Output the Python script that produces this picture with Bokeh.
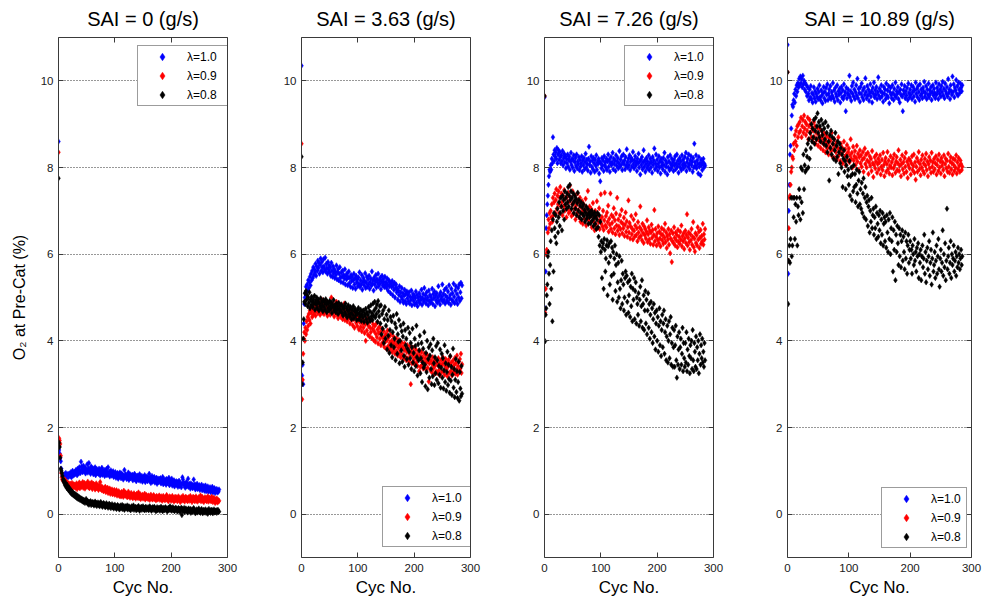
from bokeh.plotting import figure
from bokeh.models import Range1d, LinearAxis, FixedTicker, Legend, LegendItem
from bokeh.layouts import row
from bokeh.embed import file_html
from bokeh.resources import INLINE

titles = ["SAI = 0 (g/s)", "SAI = 3.63 (g/s)", "SAI = 7.26 (g/s)", "SAI = 10.89 (g/s)"]
series_labels = ["λ=1.0", "λ=0.9", "λ=0.8"]
colors = ["#0000ff", "#ff0000", "#000000"]
x_ticks = [0, 100, 200, 300]
y_ticks = [0, 2, 4, 6, 8, 10]
x_label = "Cyc No."
y_label = "O₂ at Pre-Cat (%)"

# ---- SAI = 0 ----
p1_b = [8.60,
1.48,1.40,1.30,1.22,1.05,0.95,0.90,0.86,0.88,
0.85,0.92,0.88,0.95,0.83,0.90,0.87,0.93,0.86,0.91,
0.94,0.88,0.97,0.85,0.92,1.00,0.89,0.95,0.91,0.98,
0.93,1.02,0.96,0.90,1.05,0.99,0.94,1.08,1.01,0.95,
1.21,1.10,1.03,0.97,1.12,1.05,0.99,1.08,0.94,1.03,
1.00,1.15,0.96,1.06,1.18,0.98,1.04,0.93,1.10,1.01,
0.97,1.06,0.92,1.02,0.99,1.08,0.90,0.98,1.04,0.95,
1.00,0.93,1.05,0.97,0.89,1.01,0.94,1.07,0.91,0.99,
0.95,1.02,0.88,0.97,0.93,1.04,0.90,0.96,1.08,0.92,
0.98,0.87,0.94,1.01,0.89,0.95,0.91,0.99,0.86,0.93,
0.90,0.97,0.84,0.92,0.88,0.95,0.82,0.91,0.87,0.96,
0.89,0.83,0.94,0.86,0.91,0.80,0.88,1.02,0.85,0.92,
0.87,0.81,0.90,0.84,0.96,0.79,0.86,0.92,0.83,0.89,
0.85,0.91,0.78,0.87,0.82,0.93,0.80,0.86,0.76,0.88,
0.83,0.89,0.79,0.85,0.92,0.77,0.84,0.81,0.88,0.75,
0.82,0.86,0.78,0.90,0.74,0.83,0.79,0.87,0.76,0.84,
0.80,0.93,0.77,0.85,0.72,0.81,0.88,0.75,0.83,0.78,
0.86,0.73,0.80,0.76,0.84,0.70,0.79,0.82,0.74,0.81,
0.77,0.83,0.71,0.79,0.75,0.86,0.69,0.78,0.73,0.80,
0.76,0.68,0.81,0.72,0.79,0.74,0.84,0.67,0.77,0.71,
0.75,0.82,0.66,0.74,0.70,0.78,0.64,0.73,0.69,0.76,
0.68,0.74,0.63,0.71,0.77,0.65,0.72,0.67,0.62,0.70,
0.85,0.80,0.73,0.66,0.70,0.61,0.68,0.74,0.64,0.69,
0.82,0.63,0.70,0.66,0.59,0.71,0.65,0.68,0.60,0.67,
0.80,0.62,0.69,0.57,0.66,0.63,0.70,0.58,0.64,0.61,
0.67,0.56,0.63,0.60,0.68,0.55,0.62,0.59,0.65,0.54,
0.61,0.66,0.53,0.60,0.57,0.64,0.52,0.59,0.56,0.62,
0.51,0.58,0.55,0.63,0.50,0.57,0.54,0.60,0.49,0.56,
0.53,0.58,0.50,0.55,0.52,0.57]

p1_r = [8.35,
1.75,1.70,1.62,1.35,0.95,0.85,0.80,0.78,0.82,
0.76,0.72,0.79,0.70,0.74,0.68,0.73,0.66,0.71,0.69,
0.64,0.70,0.62,0.67,0.72,0.60,0.66,0.69,0.63,0.68,
0.61,0.67,0.71,0.58,0.65,0.69,0.62,0.73,0.60,0.66,
0.70,0.63,0.68,0.74,0.61,0.67,0.72,0.59,0.66,0.70,
0.64,0.69,0.75,0.62,0.68,0.60,0.71,0.65,0.67,0.73,
0.58,0.66,0.70,0.63,0.68,0.57,0.64,0.71,0.60,0.66,
0.62,0.56,0.67,0.61,0.74,0.58,0.64,0.55,0.62,0.59,
0.53,0.60,0.56,0.63,0.51,0.58,0.54,0.61,0.49,0.57,
0.52,0.59,0.47,0.55,0.50,0.57,0.46,0.53,0.49,0.56,
0.45,0.52,0.48,0.55,0.43,0.50,0.46,0.53,0.42,0.49,
0.47,0.41,0.51,0.44,0.48,0.40,0.54,0.45,0.43,0.50,
0.42,0.47,0.39,0.45,0.52,0.41,0.46,0.38,0.44,0.49,
0.40,0.45,0.37,0.43,0.48,0.39,0.44,0.36,0.42,0.47,
0.38,0.43,0.50,0.37,0.42,0.46,0.35,0.41,0.39,0.45,
0.36,0.42,0.38,0.47,0.34,0.40,0.44,0.37,0.41,0.35,
0.43,0.38,0.33,0.40,0.45,0.36,0.41,0.34,0.39,0.44,
0.35,0.40,0.37,0.32,0.42,0.38,0.34,0.41,0.36,0.43,
0.33,0.39,0.35,0.41,0.31,0.37,0.42,0.34,0.38,0.32,
0.40,0.35,0.44,0.33,0.38,0.30,0.36,0.41,0.34,0.39,
0.31,0.37,0.42,0.33,0.38,0.29,0.35,0.40,0.32,0.36,
0.39,0.30,0.35,0.41,0.33,0.37,0.28,0.34,0.39,0.31,
0.36,0.42,0.32,0.37,0.29,0.35,0.40,0.33,0.38,0.30,
0.34,0.39,0.31,0.36,0.42,0.32,0.37,0.28,0.35,0.40,
0.33,0.38,0.30,0.35,0.41,0.31,0.36,0.29,0.34,0.39,
0.32,0.37,0.43,0.30,0.35,0.40,0.31,0.36,0.28,0.34,
0.39,0.32,0.37,0.30,0.35,0.41,0.29,0.34,0.38,0.31,
0.36,0.30,0.40,0.33,0.28,0.35,0.38,0.31,0.26,0.34,
0.30,0.36,0.27,0.33,0.29,0.31]

p1_k = [7.75,
1.65,1.55,1.30,1.05,1.00,0.95,0.88,0.80,0.75,
0.78,0.70,0.66,0.72,0.63,0.60,0.67,0.58,0.55,0.61,
0.52,0.57,0.49,0.54,0.46,0.51,0.44,0.48,0.42,0.47,
0.40,0.45,0.38,0.43,0.36,0.41,0.35,0.39,0.33,0.37,
0.32,0.36,0.30,0.34,0.28,0.33,0.31,0.26,0.30,0.35,
0.27,0.31,0.24,0.29,0.22,0.28,0.25,0.30,0.21,0.26,
0.28,0.23,0.27,0.20,0.25,0.29,0.22,0.26,0.19,0.24,
0.27,0.21,0.25,0.18,0.23,0.28,0.20,0.24,0.17,0.22,
0.26,0.19,0.23,0.16,0.21,0.25,0.18,0.22,0.15,0.20,
0.24,0.17,0.21,0.14,0.19,0.23,0.16,0.20,0.13,0.18,
0.22,0.15,0.19,0.12,0.17,0.21,0.14,0.18,0.11,0.16,
0.20,0.13,0.17,0.21,0.12,0.16,0.19,0.10,0.15,0.18,
0.13,0.17,0.20,0.11,0.15,0.18,0.12,0.16,0.09,0.14,
0.18,0.12,0.16,0.20,0.10,0.15,0.13,0.17,0.09,0.14,
0.16,0.11,0.19,0.13,0.08,0.15,0.12,0.17,0.10,0.14,
0.18,0.11,0.15,0.09,0.13,0.17,0.10,0.14,0.12,0.16,
0.09,0.13,0.18,0.11,0.15,0.08,0.12,0.16,0.10,0.14,
0.17,0.10,0.13,0.07,0.12,0.16,0.09,0.14,0.11,0.15,
0.08,0.12,0.17,0.10,0.14,0.07,0.11,0.15,0.09,0.13,
0.16,0.10,0.13,0.06,0.11,0.15,0.09,0.12,0.18,0.10,
0.14,0.08,0.12,0.16,0.09,0.13,0.07,0.11,0.15,0.10,
0.13,0.06,0.10,0.14,0.08,0.12,0.05,0.11,0.15,-0.02,
0.12,0.07,0.10,0.14,0.05,0.09,0.13,0.08,0.11,0.04,
0.10,0.13,0.06,0.09,0.12,0.03,0.08,0.11,0.05,0.10,
0.14,0.07,0.09,0.02,0.06,0.11,0.08,0.04,0.10,0.13,
0.05,0.08,0.03,0.09,0.12,0.06,0.02,0.07,0.10,0.04,
0.08,0.11,0.03,0.06,0.09,0.01,0.07,0.12,0.05,0.08,
0.03,0.10,0.06,0.09,0.02,0.07,0.11,0.04,0.08,0.05,
0.09,0.03,0.07,0.10,0.05,0.06]

# ---- SAI = 3.63 ----
p2_b = [10.35,
3.20,3.45,3.00,4.40,4.85,5.00,5.10,5.25,5.05,
5.30,5.15,5.40,5.22,5.35,5.48,5.28,5.55,5.40,5.62,
5.45,5.70,5.52,5.65,5.58,5.78,5.50,5.72,5.62,5.85,
5.68,5.80,5.55,5.75,5.90,5.62,5.82,5.70,5.58,5.88,
5.72,5.65,5.92,5.60,5.78,5.68,5.55,5.82,5.64,5.74,
5.58,5.70,5.50,5.80,5.62,5.48,5.72,5.56,5.66,5.45,
5.60,5.52,5.74,5.42,5.58,5.66,5.40,5.55,5.70,5.46,
5.36,5.58,5.48,5.62,5.34,5.52,5.44,5.65,5.30,5.50,
5.42,5.56,5.28,5.47,5.60,5.33,5.45,5.25,5.52,5.38,
5.48,5.22,5.40,5.55,5.30,5.44,5.20,5.50,5.35,5.42,
5.26,5.46,5.32,5.58,5.24,5.40,5.30,5.52,5.18,5.36,
5.45,5.28,5.38,5.56,5.22,5.34,5.48,5.25,5.42,5.30,
5.50,5.20,5.36,5.44,5.27,5.60,5.32,5.40,5.16,5.46,
5.30,5.38,5.52,5.23,5.42,5.34,5.55,5.26,5.40,5.32,
5.46,5.19,5.37,5.50,5.28,5.42,5.35,5.24,5.48,5.30,
5.36,5.22,5.44,5.30,5.15,5.40,5.26,5.35,5.10,5.32,
5.24,5.38,5.05,5.28,5.18,5.34,5.00,5.22,5.30,5.12,
5.20,4.95,5.16,5.06,5.26,4.90,5.12,5.02,5.22,4.96,
5.10,4.88,5.04,5.18,4.92,5.08,4.85,5.14,4.98,5.06,
4.90,5.12,4.86,5.02,4.94,5.16,4.82,5.00,5.08,4.92,
5.04,4.84,4.98,5.14,4.88,5.06,4.80,5.00,4.93,5.10,
4.87,5.02,4.95,5.18,4.83,4.98,5.08,4.90,5.22,4.96,
5.05,4.86,5.12,4.94,5.00,4.82,5.16,4.92,5.06,4.88,
5.02,4.95,5.20,4.85,5.08,4.98,5.14,4.80,5.04,4.93,
5.10,4.88,5.00,5.26,4.92,5.06,4.84,5.12,4.96,5.02,
5.30,4.90,5.08,4.95,5.18,4.86,5.04,5.22,4.92,5.00,
5.14,4.88,5.28,4.97,5.06,4.83,5.20,4.95,5.10,4.90,
5.32,5.02,4.87,5.16,5.26,4.94,5.08,4.85,5.22,5.00,
5.30,4.92,5.12,5.34,4.98,5.28]

p2_r = [8.55,
2.65,3.10,3.70,4.05,4.20,4.00,4.30,4.15,4.45,
4.25,4.55,4.35,4.62,4.48,4.70,4.40,4.65,4.78,4.55,
4.72,4.60,4.85,4.66,4.75,4.58,4.82,4.70,4.90,4.64,
4.78,4.68,4.88,4.60,4.80,4.72,4.95,4.65,4.84,4.74,
4.62,4.86,4.70,4.92,4.66,4.80,4.58,4.88,4.74,4.68,
4.83,4.60,4.76,5.00,4.70,4.85,4.64,4.78,4.56,4.82,
4.72,4.66,4.90,4.60,4.78,4.52,4.74,4.84,4.62,4.70,
4.55,4.80,4.65,4.50,4.74,4.60,4.86,4.48,4.68,4.58,
4.70,4.45,4.62,4.76,4.52,4.66,4.40,4.60,4.72,4.48,
4.58,4.36,4.65,4.50,4.30,4.56,4.62,4.42,4.54,4.34,
4.48,4.60,4.26,4.44,4.52,4.32,4.58,4.22,4.40,4.50,
4.30,4.46,4.18,4.38,4.00,4.42,4.24,4.52,4.14,4.34,
4.44,4.10,4.30,4.20,4.48,4.06,4.28,4.38,4.02,4.22,
4.34,3.98,4.16,4.40,4.08,4.26,3.94,4.18,4.32,4.04,
4.20,3.90,4.12,4.28,3.96,4.06,4.22,3.86,4.10,3.98,
4.16,3.82,4.02,4.24,3.88,4.08,3.78,3.96,4.14,3.84,
4.00,3.74,3.92,4.10,3.80,3.98,3.70,3.88,4.06,3.76,
3.94,3.66,3.84,4.02,3.72,3.90,3.62,3.82,3.96,3.68,
3.86,3.58,3.78,3.94,3.64,3.82,3.55,3.74,3.90,3.60,
3.80,3.52,3.70,3.88,3.00,3.76,3.48,3.66,3.84,3.56,
3.72,3.46,3.62,3.80,3.50,3.68,3.42,3.58,3.76,3.30,
3.66,3.40,3.56,3.74,3.44,3.62,3.36,3.52,3.70,3.46,
3.60,3.34,3.50,3.68,3.38,3.56,3.06,3.48,3.64,3.32,
3.54,3.28,3.46,3.62,3.36,3.52,3.24,3.42,3.58,3.30,
3.50,3.26,3.44,3.60,3.32,3.48,3.20,3.40,3.56,3.28,
3.46,3.62,3.30,3.52,3.22,3.42,3.58,3.34,3.48,3.18,
3.40,3.56,3.26,3.46,3.64,3.30,3.50,3.20,3.38,3.54,
3.28,3.44,3.60,3.24,3.48,3.34,3.66,3.22,3.42,3.52,
3.30,3.58,3.36,3.70,3.26,3.46]

p2_k = [8.25,
3.00,3.50,4.05,4.50,4.90,5.10,4.85,5.15,4.95,
5.05,4.80,5.00,4.88,5.12,4.75,4.95,4.82,5.02,4.90,
4.78,4.96,4.86,5.04,4.72,4.92,4.84,5.00,4.76,4.88,
4.95,4.70,4.86,4.80,4.98,4.74,4.90,4.82,4.68,4.94,
4.78,4.88,4.72,4.96,4.84,4.66,4.90,4.76,4.86,4.70,
4.92,4.80,4.74,4.88,4.64,4.84,4.78,4.94,4.70,4.82,
4.76,4.66,4.86,4.72,4.80,4.62,4.88,4.74,4.68,4.82,
4.70,4.84,4.64,4.78,4.58,4.74,4.80,4.66,4.86,4.60,
4.76,4.54,4.70,4.82,4.62,4.72,4.56,4.78,4.64,4.50,
4.72,4.60,4.80,4.52,4.68,4.74,4.58,4.66,4.48,4.70,
4.62,4.76,4.50,4.64,4.56,4.72,4.46,4.60,4.68,4.54,
4.70,4.44,4.62,4.58,4.74,4.50,4.66,4.42,4.60,4.78,
4.52,4.68,4.46,4.82,4.56,4.64,4.48,4.86,4.58,4.70,
4.90,4.54,4.76,4.62,4.84,4.44,4.92,4.68,4.56,4.80,
4.40,4.82,4.15,4.62,4.28,4.70,3.95,4.50,4.78,4.05,
4.35,4.60,3.80,4.48,4.12,4.70,3.72,4.25,4.55,3.90,
4.45,3.62,4.20,4.58,3.85,4.05,4.40,3.55,4.30,4.62,
3.70,4.15,3.98,4.48,3.48,4.00,4.35,3.78,4.22,3.52,
4.10,4.40,3.65,3.40,4.25,3.90,4.05,3.58,3.82,4.30,
3.45,3.75,4.18,3.60,3.95,3.35,3.85,4.28,3.50,3.72,
3.30,4.05,3.88,3.42,4.35,3.62,3.20,3.92,3.55,3.78,
4.12,3.25,3.60,3.95,3.05,3.50,3.82,3.38,4.20,3.45,
2.95,3.72,3.28,4.00,2.88,3.58,3.85,3.15,3.66,3.92,
3.35,3.00,3.78,3.18,4.05,3.48,2.98,3.62,3.25,3.88,
3.10,3.55,3.95,3.02,3.42,3.22,3.80,2.92,3.38,3.70,
3.15,3.60,2.90,3.32,3.90,3.05,3.48,2.85,3.28,3.75,
2.98,3.45,3.12,2.80,3.65,3.08,3.40,2.75,3.22,3.82,
2.92,3.35,2.70,3.10,3.58,2.82,3.30,2.68,3.05,3.52,
2.62,3.28,2.90,2.72,3.42,2.78]

# ---- SAI = 7.26 ----
p3_b = [9.62,
4.75,5.60,6.60,6.90,7.15,7.35,7.60,7.80,7.95,
7.90,8.05,7.95,8.20,8.10,8.70,8.30,8.15,8.40,8.25,
8.35,8.20,8.45,8.10,8.30,8.40,8.18,8.36,8.25,8.10,
8.28,8.15,8.38,8.05,8.22,8.32,8.12,8.26,7.98,8.20,
8.10,8.30,8.02,8.18,8.25,7.95,8.14,8.34,8.06,8.20,
8.00,8.16,8.28,7.92,8.12,8.22,8.04,8.30,7.98,8.14,
8.08,8.24,7.94,8.18,8.02,8.10,8.26,7.90,8.16,8.05,
8.22,7.96,8.12,8.32,8.00,8.18,8.08,7.93,8.20,8.48,
8.06,8.14,7.88,8.26,8.02,8.16,7.96,8.22,8.10,7.90,
8.18,8.04,8.28,7.95,8.12,8.08,8.20,7.86,8.14,7.68,
8.10,7.98,8.22,8.04,8.16,7.92,8.26,8.06,8.12,8.00,
8.20,7.94,8.14,8.30,8.02,8.18,7.90,8.10,8.24,8.06,
8.12,8.34,7.96,8.20,8.08,8.16,7.92,8.28,8.04,8.14,
8.22,7.98,8.10,8.38,8.02,8.18,8.06,8.26,7.94,8.12,
8.30,8.08,8.16,7.96,8.24,8.04,8.42,8.12,8.00,8.20,
8.06,8.28,7.94,8.14,8.22,8.02,8.18,8.36,8.08,7.98,
8.16,8.26,8.04,8.12,7.92,8.20,8.10,8.32,8.00,8.14,
7.84,8.18,8.06,8.24,7.96,8.12,8.40,8.02,8.16,7.90,
8.08,8.22,7.98,8.14,8.04,8.28,7.94,8.10,8.20,8.00,
8.12,7.88,8.24,8.06,8.16,8.44,7.96,8.10,8.30,8.02,
8.18,7.92,8.08,8.26,8.00,8.14,7.86,8.20,8.04,8.12,
7.96,8.22,8.06,8.34,7.90,8.16,8.02,8.10,7.84,8.24,
8.00,8.14,7.94,8.28,8.08,7.98,8.20,8.04,8.12,7.92,
8.18,8.06,8.26,7.96,8.10,8.30,8.02,8.16,7.88,8.08,
8.22,8.00,8.14,7.94,8.28,8.06,8.18,7.98,8.10,8.24,
8.04,8.34,7.92,8.12,8.20,8.02,8.30,8.08,7.96,8.16,
8.26,8.06,8.14,7.90,8.22,8.00,8.55,8.12,8.04,8.28,
7.98,8.16,8.08,7.86,8.24,8.02,8.10,7.82,8.18,8.06,
7.94,8.12,8.20,8.00,8.08,8.04]

p3_r = [9.65,
4.65,5.20,6.00,6.10,6.05,6.50,6.80,6.60,6.95,
6.70,7.00,6.85,7.15,6.75,7.30,6.90,7.20,7.40,6.95,
7.25,7.50,7.05,7.35,7.15,7.45,6.95,7.30,7.55,7.10,
7.40,7.20,6.90,7.35,7.10,7.48,7.00,7.28,7.15,6.85,
7.32,7.05,7.42,6.95,7.22,7.58,7.00,7.30,6.88,7.15,
7.45,6.92,7.20,7.05,7.36,6.80,7.12,7.25,6.95,7.40,
7.02,6.86,7.18,7.30,6.75,7.08,6.95,7.22,6.70,7.00,
7.14,6.82,6.98,7.28,6.66,7.06,6.90,7.46,6.78,6.96,
7.10,6.72,6.88,7.04,6.62,6.94,7.18,6.76,6.85,6.55,
7.00,6.68,6.84,7.22,6.60,6.92,6.74,7.06,6.58,6.80,
7.38,6.70,6.86,6.64,7.00,6.56,6.78,7.42,6.66,6.88,
6.62,6.96,6.74,7.12,6.52,6.82,6.68,7.40,6.58,6.90,
6.72,6.50,6.86,7.06,6.60,6.78,6.46,6.94,6.66,7.30,
6.54,6.80,6.64,6.44,6.90,6.58,6.74,7.02,6.48,6.70,
6.60,6.84,6.42,6.68,6.96,6.52,6.76,6.40,6.62,7.24,
6.50,6.72,6.36,6.64,6.88,6.46,6.58,6.34,6.80,6.54,
6.40,6.66,6.92,6.44,6.60,6.30,6.74,6.50,6.38,6.62,
7.10,6.42,6.56,6.32,6.70,6.48,6.26,6.64,6.44,6.58,
6.36,6.52,6.78,6.28,6.46,6.62,6.34,6.54,6.24,6.50,
6.68,6.38,6.56,6.22,6.44,7.02,6.30,6.58,6.40,6.20,
6.48,6.34,6.64,6.26,6.52,6.36,6.18,6.46,6.60,6.32,
6.44,6.24,6.56,6.38,6.70,6.28,6.50,6.14,6.42,6.34,
6.58,6.22,6.46,6.02,6.36,6.54,5.82,6.30,6.48,6.26,
6.62,6.38,6.20,6.50,6.32,6.44,6.16,6.56,6.28,6.40,
6.24,6.52,6.34,6.66,6.18,6.42,6.30,6.48,6.12,6.36,
6.54,6.26,6.44,6.92,6.20,6.38,6.50,6.28,6.10,6.46,
6.32,6.58,6.22,6.40,6.74,6.16,6.36,6.06,6.48,6.26,
6.44,6.20,6.62,6.34,6.52,6.14,6.38,6.56,6.24,6.42,
6.30,6.70,6.22,6.46,6.34,6.58]

p3_k = [9.65,
3.99,4.60,4.75,5.05,5.30,5.95,6.05,5.55,4.85,
5.75,6.30,5.20,6.55,4.45,6.80,5.60,6.95,6.60,6.40,
6.90,6.25,6.75,7.05,6.50,6.85,7.20,6.65,6.95,7.30,
7.10,6.55,7.35,7.00,7.25,6.80,7.45,7.15,7.30,7.05,
7.40,7.20,7.55,7.10,7.35,7.60,7.25,7.45,7.05,7.30,
7.15,7.40,6.95,7.22,7.35,7.05,7.28,6.90,7.18,7.42,
7.00,7.25,6.85,7.12,6.95,7.20,6.80,7.08,6.92,7.15,
6.88,7.02,6.75,6.96,7.10,6.82,6.90,7.04,6.70,6.94,
6.85,6.98,6.72,6.90,7.00,6.78,6.92,6.65,6.84,6.96,
6.70,6.88,6.58,6.80,6.95,6.62,6.40,6.90,6.20,6.75,
6.05,6.30,5.45,6.15,6.25,5.20,6.35,6.10,5.60,5.90,
6.20,6.32,5.05,6.18,5.80,6.25,5.30,5.95,6.30,5.50,
6.15,4.95,6.05,5.55,5.90,6.20,5.15,5.75,6.00,4.90,
5.35,5.80,5.00,5.95,5.20,4.75,5.40,5.85,4.85,5.55,
5.30,4.70,5.00,5.45,5.60,4.60,5.50,4.90,5.35,4.65,
5.05,5.40,4.55,5.25,4.80,5.55,4.45,5.20,4.95,5.45,
4.50,5.15,5.35,4.40,5.00,4.85,4.60,5.10,4.35,4.95,
5.25,4.45,4.80,5.40,4.30,4.85,5.05,4.25,4.70,5.15,
4.40,4.95,4.15,4.70,5.10,4.30,4.85,4.05,4.60,4.90,
4.20,4.75,3.95,4.50,4.85,4.10,4.65,3.80,4.40,4.70,
4.00,4.55,3.75,4.35,4.75,3.90,4.45,3.65,4.25,4.60,
3.85,4.40,4.70,3.70,4.20,4.50,3.55,4.10,4.35,3.50,
4.00,4.45,3.60,4.15,4.55,3.45,3.95,4.30,3.40,3.85,
4.25,3.40,3.90,4.35,3.55,3.15,4.10,3.45,3.80,4.20,
3.35,3.85,4.05,3.45,3.70,4.30,3.30,3.95,3.60,3.40,
3.95,3.50,4.20,3.30,3.80,3.45,4.05,3.65,3.25,3.90,
3.60,4.00,3.35,4.25,3.55,3.30,3.95,3.75,3.40,4.10,
3.35,3.85,3.55,4.00,3.25,3.70,4.15,3.45,3.90,3.60,
4.05,3.50,3.75,3.40,3.95,3.55]

# ---- SAI = 10.89 ----
p4_b = [10.83,
5.55,7.00,7.60,8.30,8.50,8.90,9.20,9.45,9.40,
9.55,9.70,9.50,9.80,9.65,9.90,9.75,9.95,9.85,10.05,
9.90,10.10,9.95,10.05,9.85,10.12,9.92,10.00,9.80,9.95,
9.75,9.90,9.65,9.85,9.70,9.55,9.80,9.62,9.88,9.58,
9.72,9.50,9.68,9.85,9.60,9.76,9.52,9.70,9.64,9.82,
9.58,9.74,9.90,9.62,9.55,9.78,9.66,9.48,9.72,9.86,
9.60,9.75,9.54,9.84,9.68,9.92,9.56,9.70,9.80,9.62,
9.88,9.58,9.74,9.66,9.95,9.60,9.78,9.52,9.84,9.70,
9.64,9.90,9.56,9.76,9.68,9.82,9.50,9.72,9.86,9.62,
9.78,9.58,9.92,9.66,9.74,9.30,9.84,9.60,9.70,9.80,
9.68,10.12,9.62,9.76,9.54,9.88,9.70,9.96,9.64,9.80,
9.58,9.74,9.90,9.66,10.05,9.60,9.82,9.72,9.52,9.86,
9.70,9.94,9.62,9.78,9.56,9.84,9.68,10.06,9.74,9.60,
9.88,9.66,9.80,9.54,9.72,9.92,9.64,9.76,9.50,9.84,
9.70,9.96,9.62,9.78,9.68,9.86,9.58,9.74,10.08,9.66,
9.82,9.60,9.76,9.90,9.64,9.72,9.52,9.86,9.70,9.80,
9.58,9.94,9.66,9.78,9.62,9.88,9.48,9.74,9.84,9.68,
9.60,9.90,9.72,9.56,9.82,9.66,9.96,9.62,9.76,9.70,
9.86,9.58,9.74,9.50,9.80,9.68,9.92,9.64,9.30,9.78,
9.70,9.88,9.60,9.76,9.66,9.84,9.56,9.94,9.72,9.62,
9.80,9.68,9.90,9.58,9.74,9.86,9.64,9.78,9.52,9.96,
9.70,9.82,9.62,9.88,9.74,9.56,9.92,9.66,9.80,9.70,
9.60,9.84,9.76,9.98,9.64,9.72,9.88,9.58,9.80,9.68,
9.94,9.62,9.78,9.70,9.86,9.56,9.74,9.90,9.66,9.82,
9.72,9.60,9.96,9.68,9.84,9.76,9.58,9.92,9.70,9.80,
9.64,9.88,9.74,9.98,9.66,9.82,9.60,9.94,9.76,9.70,
9.86,9.64,10.04,9.72,9.80,9.58,9.90,9.76,9.68,10.10,
9.74,9.92,9.62,9.84,9.78,10.02,9.70,9.88,9.66,9.96,
9.80,9.72,9.94,9.84,9.76,9.90]

p4_r = [10.20,
5.85,6.60,7.30,7.35,7.60,7.90,8.00,8.25,8.20,
8.55,8.40,8.75,8.60,8.85,8.50,8.95,8.70,9.00,8.80,
9.05,8.85,9.15,8.70,8.95,9.10,8.80,9.20,8.90,9.05,
8.75,9.00,8.85,9.15,8.65,8.95,9.10,8.80,9.00,8.70,
8.90,8.60,8.85,9.05,8.70,8.95,8.55,8.80,8.65,8.92,
8.50,8.75,8.62,8.88,8.45,8.70,8.58,8.82,8.40,8.66,
8.52,8.78,8.35,8.60,8.72,8.44,8.56,8.30,8.68,8.48,
8.62,8.38,8.80,8.26,8.54,8.42,8.66,8.22,8.50,8.35,
8.58,8.20,8.45,8.70,8.28,8.40,8.15,8.55,8.32,8.46,
8.10,8.38,8.60,8.24,8.42,8.05,8.30,8.52,8.18,8.36,
8.44,8.12,8.28,8.65,8.20,8.34,8.00,8.48,8.16,8.26,
8.38,8.06,8.22,8.50,8.14,8.32,7.95,8.24,8.40,8.10,
8.28,8.02,8.18,8.36,7.90,8.22,8.44,8.08,8.30,8.00,
8.16,8.34,7.85,8.12,8.26,8.04,8.20,7.92,8.38,8.10,
7.78,8.06,8.24,7.98,8.14,8.30,7.88,8.08,8.20,7.96,
8.12,8.28,7.84,8.02,8.18,7.94,8.34,8.06,7.80,8.14,
8.22,7.90,8.08,8.36,7.96,8.16,7.86,8.04,8.26,8.00,
8.12,7.82,8.20,7.98,8.30,8.06,7.88,8.14,8.24,7.94,
8.10,8.40,7.92,8.04,8.18,7.80,8.08,8.28,7.96,8.12,
7.86,8.22,8.02,8.34,7.90,8.14,7.76,8.06,8.20,7.98,
8.16,7.84,8.10,8.26,7.94,8.04,8.30,7.88,8.12,7.72,
8.02,8.22,7.90,8.14,8.36,7.96,8.08,7.82,8.18,8.00,
8.28,7.92,8.10,7.86,8.20,8.04,8.32,7.94,8.14,7.80,
8.08,8.24,7.98,8.16,7.88,8.34,8.02,8.12,7.90,8.20,
7.96,8.10,8.26,7.84,8.06,8.18,7.92,8.30,8.00,8.14,
7.86,8.22,8.04,8.12,7.94,8.28,7.80,8.08,8.20,7.98,
8.16,7.90,8.32,8.02,7.88,8.14,8.24,7.96,8.10,7.84,
8.20,8.06,7.92,8.18,8.00,8.28,7.86,8.12,7.96,8.22,
8.04,7.90,8.16,8.08,7.94,8.02]

p4_k = [10.20,
4.85,5.85,6.20,5.80,6.35,7.30,5.95,6.20,7.30,
6.85,7.30,6.35,7.15,6.75,7.30,6.20,7.10,6.90,7.50,
7.30,6.80,8.00,7.20,7.95,6.95,8.30,7.50,8.05,7.90,
8.40,7.95,8.25,8.55,8.00,8.65,8.20,8.80,8.45,9.00,
8.60,8.90,8.70,9.10,8.55,8.85,9.15,8.65,8.95,9.25,
8.80,9.05,8.70,8.95,8.60,9.10,8.85,8.75,9.00,8.55,
8.90,8.65,9.05,8.50,8.80,8.35,8.95,8.60,7.70,8.75,
8.45,8.85,8.30,8.70,8.55,8.20,8.65,8.40,8.80,8.15,
8.50,8.25,8.60,7.85,8.35,8.55,8.10,8.45,8.00,8.30,
7.55,8.20,8.40,7.90,8.15,7.50,8.05,8.25,7.80,7.95,
7.60,8.15,7.35,7.80,8.00,7.25,7.85,7.45,8.05,7.55,
7.85,7.20,7.60,7.95,7.40,7.10,7.70,7.90,7.15,7.50,
7.05,7.65,6.95,7.40,7.75,6.85,7.30,7.55,6.80,7.20,
7.35,6.65,7.10,7.25,6.50,7.00,6.75,7.30,6.60,6.90,
7.05,6.45,6.85,6.60,7.10,6.35,6.95,6.70,6.40,6.90,
6.55,7.00,6.25,6.80,6.45,6.95,6.20,6.70,6.85,6.30,
6.75,6.15,6.90,6.50,6.05,6.80,6.35,6.95,6.00,6.60,
6.30,6.85,5.60,6.55,6.10,6.75,5.40,6.45,6.05,6.65,
6.25,5.75,6.60,5.95,6.45,5.70,6.30,6.55,5.85,6.40,
6.05,5.65,6.50,5.90,6.30,5.55,6.20,6.45,5.80,6.10,
6.30,5.90,6.10,5.55,6.20,6.00,5.75,6.35,5.85,6.05,
5.60,6.15,5.95,6.25,5.45,6.00,5.80,6.10,5.40,5.95,
6.20,5.70,5.90,6.45,5.55,6.05,5.35,5.85,6.15,5.65,
5.95,6.30,5.50,5.80,6.10,5.30,5.90,6.50,5.60,5.75,
6.05,5.45,5.85,6.20,5.55,5.95,6.35,5.65,5.25,5.90,
6.10,5.60,5.80,6.55,5.50,6.00,5.70,6.25,5.40,5.85,
7.05,5.65,5.95,6.15,5.55,5.80,6.30,5.45,6.00,5.75,
5.90,6.20,5.60,5.85,6.05,5.50,5.95,5.70,6.15,5.80,
6.00,5.65,5.90,6.10,5.75,5.95]

panels = [
    (p1_b, p1_r, p1_k),
    (p2_b, p2_r, p2_k),
    (p3_b, p3_r, p3_k),
    (p4_b, p4_r, p4_k),
]

FONT = "Liberation Sans"
AX = "#3a3a3a"
TXT = "#202020"

# layout: (left border, frame width, right border, legend location, legend label width)
layout_specs = [
    (58, 169, 17, (79, 451), 40),
    (57, 169, 17, (81, 10), 39),
    (57, 169, 17, (80, 451), 39),
    (57, 184, 11, (94, 9), 34),
]


def style_axis(ax, show_labels=True):
    ax.axis_line_color = AX
    ax.axis_line_width = 1
    ax.major_tick_line_color = AX
    ax.major_tick_in = 5
    ax.major_tick_out = 0
    ax.minor_tick_line_color = None
    ax.major_label_text_font = FONT
    if show_labels:
        ax.major_label_text_font_size = "11.5px"
        ax.major_label_text_color = TXT
    else:
        ax.major_label_text_font_size = "1px"
        ax.major_label_text_color = None
        ax.major_label_standoff = 0


figs = []
for i, (series, spec) in enumerate(zip(panels, layout_specs)):
    left, fw, right, loc, lw = spec
    p = figure(width=left + fw + right, height=603,
               frame_width=fw, frame_height=520,
               min_border_left=left, min_border_right=right,
               min_border_top=37, min_border_bottom=46,
               x_range=Range1d(0, 300), y_range=Range1d(-1, 11),
               output_backend="svg", toolbar_location=None)
    p.outline_line_color = None
    p.background_fill_color = "white"
    p.border_fill_color = "white"

    p.xaxis.ticker = FixedTicker(ticks=x_ticks)
    p.yaxis.ticker = FixedTicker(ticks=y_ticks)
    style_axis(p.xaxis[0])
    style_axis(p.yaxis[0])
    p.xaxis.major_label_standoff = 6
    p.yaxis.major_label_standoff = 5
    p.xaxis.axis_label = x_label
    p.xaxis.axis_label_text_font = FONT
    p.xaxis.axis_label_text_font_size = "17px"
    p.xaxis.axis_label_text_font_style = "normal"
    p.xaxis.axis_label_text_color = "#000000"
    p.xaxis.axis_label_standoff = 3
    if i == 0:
        p.yaxis.axis_label = y_label
        p.yaxis.axis_label_text_font = FONT
        p.yaxis.axis_label_text_font_size = "16px"
        p.yaxis.axis_label_text_font_style = "normal"
        p.yaxis.axis_label_text_color = "#000000"
        p.yaxis.axis_label_standoff = 10

    # top axis: ticks only, its axis label serves as the panel title
    top = LinearAxis(ticker=FixedTicker(ticks=x_ticks))
    style_axis(top, show_labels=False)
    top.axis_label = titles[i]
    top.axis_label_text_font = FONT
    top.axis_label_text_font_size = "20px"
    top.axis_label_text_font_style = "normal"
    top.axis_label_text_color = "#000000"
    top.axis_label_standoff = 8
    p.add_layout(top, "above")
    rgt = LinearAxis(ticker=FixedTicker(ticks=y_ticks))
    style_axis(rgt, show_labels=False)
    p.add_layout(rgt, "right")

    p.xgrid.visible = False
    p.ygrid.ticker = FixedTicker(ticks=y_ticks)
    p.ygrid.grid_line_color = "#303030"
    p.ygrid.grid_line_dash = "1 2"
    p.ygrid.grid_line_width = 1

    rends = []
    for ys, col in zip(series, colors):
        xs = list(range(len(ys)))
        r = p.scatter(xs, ys, marker="diamond", size=5.5, fill_color=col,
                      line_color=col, line_width=0.5)
        rends.append(r)

    legend = Legend(items=[LegendItem(label=lab, renderers=[r])
                           for lab, r in zip(series_labels, rends)],
                    location=loc, orientation="vertical",
                    padding=1, spacing=0, margin=0,
                    label_height=19, glyph_height=19, glyph_width=46,
                    label_standoff=2, label_width=lw,
                    label_text_font=FONT, label_text_font_size="12px",
                    label_text_color="#000000",
                    border_line_color=AX, border_line_width=1,
                    background_fill_color="white", background_fill_alpha=1)
    p.add_layout(legend)
    figs.append(p)

layout = row(*figs, spacing=0)

with open("out.html", "w") as f:
    f.write(file_html(layout, INLINE, title="O2 at Pre-Cat"))
